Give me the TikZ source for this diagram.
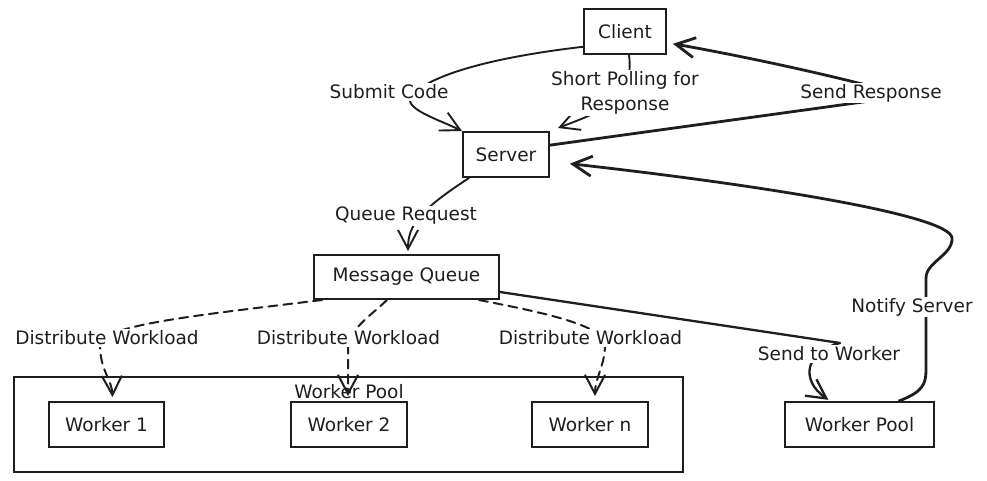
\documentclass[tikz,border=0pt]{standalone}
\usepackage{fontspec}
\setmainfont{DejaVu Sans}
\usetikzlibrary{arrows.meta}
\definecolor{ink}{HTML}{1E1E1E}
\tikzset{
  nbox/.style={draw=ink, line width=2pt, inner sep=0pt, text=ink, font=\fontsize{18.5}{22}\selectfont},
  lbl/.style={fill=white, inner sep=1.5pt, text=ink, align=center, font=\fontsize{18.5}{25}\selectfont},
  arrowhd/.style={-{Straight Barb[length=19pt,width=20pt]}},
  conn/.style={draw=ink, line width=1.9pt, line cap=round, line join=round, arrowhd},
  heavy/.style={conn, line width=2.8pt},
  dsh/.style={conn, line width=2pt, dash pattern=on 9pt off 6pt},
}
\begin{document}
\begin{tikzpicture}[x=1pt,y=-1pt]
\fill[white] (0,0) rectangle (987,481);
\useasboundingbox (0,0) rectangle (987,481);

% container and its title
\node[draw=ink, line width=1.5pt, minimum width=669pt, minimum height=95pt, inner sep=0pt] (pool) at (348.5,424.5) {};
\node[text=ink, font=\fontsize{18.5}{22}\selectfont, inner sep=0pt] (pooltitle) at (349,392) {Worker Pool};

% boxes
\node[nbox, minimum width=82pt, minimum height=45pt] (client) at (625,31.5) {Client};
\node[nbox, minimum width=86pt, minimum height=45pt] (server) at (506,154.5) {Server};
\node[nbox, minimum width=185pt, minimum height=44pt] (mq) at (406.5,277) {Message Queue};
\node[nbox, minimum width=115pt, minimum height=45pt] (w1) at (106.5,424.5) {Worker 1};
\node[nbox, minimum width=116pt, minimum height=45pt] (w2) at (349,424.5) {Worker 2};
\node[nbox, minimum width=116pt, minimum height=45pt] (wn) at (590,424.5) {Worker n};
\node[nbox, minimum width=149pt, minimum height=45pt] (wp) at (859.5,424.5) {Worker Pool};

% connectors
\coordinate (subturn) at (412,95);
\draw[conn] (client.200) .. controls (495,57) and (432,74) .. (subturn) .. controls (400,108) and (440,120) .. (server.north west);
\draw[conn] ([xshift=4pt]client.south) .. controls (635,100) and (600,112) .. ([shift={(8pt,3pt)}]server.north east);
\draw[heavy, shorten >=6pt] (server.12) -- (870,101) -- (870,86) .. controls (800,68) and (720,52) .. (client.-15);
\draw[conn, shorten >=3pt] ([xshift=7pt]server.south west) .. controls (420,210) and (408,225) .. ([xshift=1.5pt]mq.north);
\draw[dsh, shorten >=4pt] ([xshift=9pt]mq.south west) .. controls (200,315) and (100,325) .. (100,345) .. controls (100,370) and (112,380) .. ([xshift=6pt]w1.north);
\draw[dsh, shorten >=5pt] ([xshift=-19.5pt]mq.south) .. controls (368,318) and (348,330) .. (348,350) -- ([xshift=-1pt]w2.north);
\draw[dsh, shorten >=5pt] ([xshift=-21pt]mq.south east) .. controls (540,312) and (605,325) .. (605,345) .. controls (605,365) and (595,378) .. ([xshift=5pt]wn.north);
\draw[conn, line width=2.3pt, shorten >=2pt] ([yshift=-15pt]mq.east) -- (840,343) .. controls (805,352) and (800,380) .. ([xshift=-29.5pt]wp.north);
\draw[heavy, shorten >=20pt] ([xshift=-36pt]wp.north east) .. controls (922,392) and (926,385) .. (926,370) -- (926,278) .. controls (926,262) and (953,255) .. (952,238) .. controls (950,215) and (760,185) .. (server.-9);

% labels
\node[lbl] (lsubmit) at (389,92) {Submit Code};
\node[lbl] (lpoll) at (625,93) {Short Polling for\\Response};
\node[lbl] (lsend) at (871,93) {Send Response};
\node[lbl] (lqueue) at (406,216) {Queue Request};
\node[lbl] (ld1) at (107,338) {Distribute Workload};
\node[lbl] (ld2) at (348.5,338) {Distribute Workload};
\node[lbl] (ld3) at (590.5,338) {Distribute Workload};
\node[lbl] (lsendw) at (829,354) {Send to Worker};
\node[lbl] (lnotify) at (912,307) {Notify Server};
\end{tikzpicture}
\end{document}
